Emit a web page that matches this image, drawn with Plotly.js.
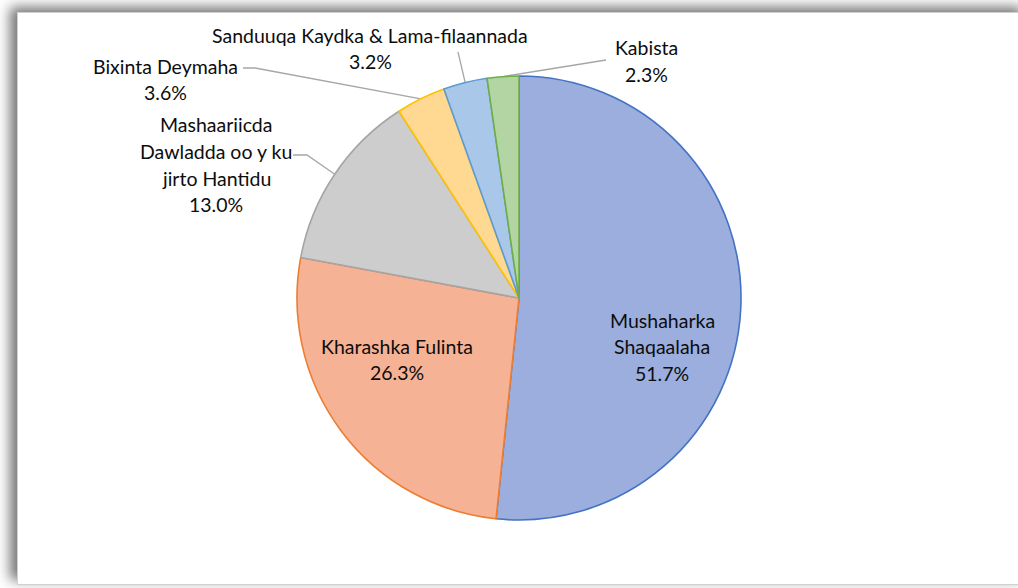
<!DOCTYPE html>
<html>
<head>
<meta charset="utf-8">
<script src="https://cdn.plot.ly/plotly-3.0.1.min.js"></script>
<style>
html,body{margin:0;padding:0;width:1018px;height:588px;overflow:hidden;background:#ffffff;}
#frame{position:absolute;left:17px;top:12px;width:1012px;height:573px;background:#ffffff;
  box-shadow:-7px -5px 12px rgba(0,0,0,0.55);border:1px solid #d0d0d0;box-sizing:border-box;}
#chart{position:absolute;left:0;top:0;width:1018px;height:588px;}
</style>
</head>
<body>
<div id="frame"></div>
<div id="chart"></div>
<script>
// ---- data ----
const categories = [
  "Mushaharka Shaqaalaha",
  "Kharashka Fulinta",
  "Mashaariicda Dawladda oo y ku jirto Hantidu",
  "Bixinta Deymaha",
  "Sanduuqa Kaydka & Lama-filaannada",
  "Kabista"
];
const values = [51.7, 26.3, 13.0, 3.6, 3.2, 2.3];
const percentLabels = ["51.7%", "26.3%", "13.0%", "3.6%", "3.2%", "2.3%"];
const labelLines = [
  ["Mushaharka", "Shaqaalaha"],
  ["Kharashka Fulinta"],
  ["Mashaariicda", "Dawladda oo y ku", "jirto Hantidu"],
  ["Bixinta Deymaha"],
  ["Sanduuqa Kaydka & Lama-filaannada"],
  ["Kabista"]
];
const fillColors = ["#9BAEDE", "#F5B295", "#CDCDCD", "#FFD992", "#A9C7E9", "#B2D5A3"];
const lineColors = ["#4472C4", "#ED7D31", "#A5A5A5", "#FFC000", "#5B9BD5", "#70AD47"];

// ---- layout geometry (pixels) ----
const W = 1018, H = 588;
const cx = 519, cy = 298, R = 222;
const LH = 26.5;
const labelPos = [
  [662, 320], [397, 346], [216, 125], [165, 66], [370, 35], [646, 48]
];
const leaderStart = [
  null, null,
  [[293,155],[307,155]],
  [[243,68],[255,68]],
  [[458,52]],
  [[606,60]]
];

const px = x => x / W;
const py = y => 1 - y / H;

const annotations = [];
labelLines.forEach((lines, i) => {
  const all = lines.concat([percentLabels[i]]);
  all.forEach((t, j) => {
    annotations.push({
      text: t, x: px(labelPos[i][0]), y: py(labelPos[i][1] + j * LH),
      xref: "paper", yref: "paper", xanchor: "center", yanchor: "middle",
      showarrow: false, font: {family: "Lato, 'Open Sans', sans-serif", size: 19.5, color: "#0d0d0d"}
    });
  });
});

const total = values.reduce((a, b) => a + b, 0);
let cum = 0;
const shapes = [];
values.forEach((v, i) => {
  const mid = (cum + v / 2) / total * 2 * Math.PI;
  cum += v;
  if (!leaderStart[i]) return;
  const ex = cx + R * Math.sin(mid), ey = cy - R * Math.cos(mid);
  const pts = leaderStart[i].concat([[ex, ey]]);
  const path = pts.map((p, k) => (k ? "L" : "M") + px(p[0]) + "," + py(p[1])).join(" ");
  shapes.push({type: "path", xref: "paper", yref: "paper", path: path,
    line: {color: "#A6A6A6", width: 1.3}, layer: "below"});
});

const trace = {
  type: "pie",
  labels: categories,
  values: values,
  sort: false,
  direction: "clockwise",
  rotation: 0,
  textinfo: "none",
  hoverinfo: "label+percent",
  showlegend: false,
  marker: {colors: fillColors, line: {color: lineColors, width: 1.6}},
  domain: {x: [(cx - R) / W, (cx + R) / W], y: [(H - cy - R) / H, (H - cy + R) / H]}
};

const layout = {
  width: W, height: H,
  margin: {l: 0, r: 0, t: 0, b: 0},
  paper_bgcolor: "rgba(0,0,0,0)",
  plot_bgcolor: "rgba(0,0,0,0)",
  annotations: annotations,
  shapes: shapes,
  showlegend: false
};

Plotly.newPlot("chart", [trace], layout, {displayModeBar: false, staticPlot: true});
</script>
</body>
</html>
